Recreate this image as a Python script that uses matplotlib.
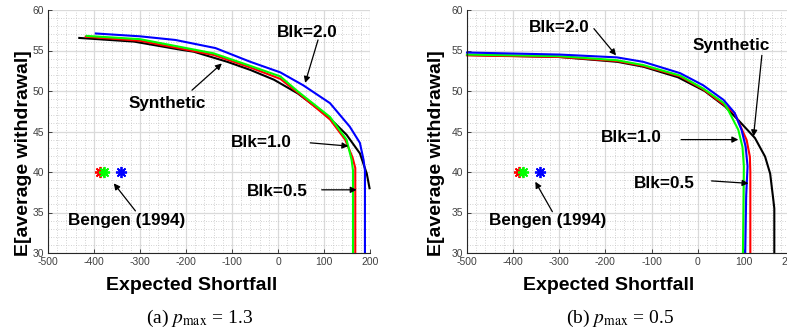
import numpy as np
import matplotlib.pyplot as plt
from matplotlib.ticker import MultipleLocator

plt.rcParams['font.family'] = ['Liberation Sans', 'DejaVu Sans']
plt.rcParams['mathtext.fontset'] = 'stix'
plt.rcParams['axes.unicode_minus'] = False

# (a) p_max = 1.3
a_syn_x = [-432, -313, -212, -183, -110, -60, -9, 43, 92, 124, 149, 178, 193, 199]
a_syn_y = [56.55, 56.1, 55.1, 54.85, 53.6, 52.6, 51.4, 49.7, 47.6, 46.0, 44.6, 42.3, 39.8, 38.0]
a_b05_x = [-418, -300, -140, -60, 5, 43, 113, 146, 162, 168, 168]
a_b05_y = [56.7, 56.2, 54.45, 52.9, 51.5, 49.8, 46.5, 44.0, 41.8, 40.5, 30]
a_b10_x = [-416, -300, -140, -60, 5, 43, 113, 149, 160, 163, 163]
a_b10_y = [56.8, 56.4, 54.65, 53.1, 51.8, 49.95, 46.8, 44.0, 41.5, 40.2, 30]
a_b20_x = [-396, -300, -223, -136, -60, 5, 55, 113, 156, 178, 186, 189, 189]
a_b20_y = [57.1, 56.75, 56.3, 55.3, 53.6, 52.3, 50.7, 48.5, 45.6, 43.6, 41.5, 40.2, 30]
a_bengen_x = [-387, -379, -342]

# (b) p_max = 0.5
b_syn_x = [-500, -300, -174, -118, -43, 15, 59, 88, 124, 146, 157, 164, 166, 166]
b_syn_y = [54.45, 54.2, 53.6, 53.0, 51.7, 50.0, 48.1, 46.4, 44.2, 41.9, 39.8, 36.5, 35.5, 30]
b_b05_x = [-500, -300, -175, -118, -38, 12, 57, 80, 106, 113, 114, 114]
b_b05_y = [54.4, 54.2, 53.7, 53.1, 51.8, 50.2, 48.3, 47.25, 43.95, 41.9, 40.0, 30]
b_b10_x = [-500, -300, -175, -118, -38, 12, 57, 66, 88, 97, 100, 98]
b_b10_y = [54.5, 54.3, 53.8, 53.2, 51.9, 50.3, 48.5, 47.65, 45.2, 43.1, 40.7, 30]
b_b20_x = [-500, -300, -175, -118, -38, 12, 56, 80, 95, 104, 108, 105, 103]
b_b20_y = [54.75, 54.5, 54.15, 53.6, 52.2, 50.7, 48.9, 47.3, 45.2, 43.1, 40.7, 37.0, 30]
b_bengen_x = [-388, -379, -341]

bengen_y = 40

fig = plt.figure(figsize=(7.87, 3.34), dpi=100)
ax1 = fig.add_axes([48/787, 81/334, 322/787, 243/334])
ax2 = fig.add_axes([467/787, 81/334, 323/787, 243/334])


def setup(ax):
    ax.set_xlim(-500, 200)
    ax.set_ylim(30, 60)
    ax.xaxis.set_major_locator(MultipleLocator(100))
    ax.xaxis.set_minor_locator(MultipleLocator(20))
    ax.yaxis.set_major_locator(MultipleLocator(5))
    ax.yaxis.set_minor_locator(MultipleLocator(1))
    ax.grid(which='major', color='#dadada', lw=0.9)
    ax.grid(which='minor', color='#c4c4c4', lw=0.6, ls=(0, (1, 2)))
    ax.set_axisbelow(True)
    for s in ['top', 'right']:
        ax.spines[s].set_visible(False)
    for s in ['left', 'bottom']:
        ax.spines[s].set_color('#262626')
        ax.spines[s].set_linewidth(0.8)
    ax.tick_params(which='major', direction='in', length=3, width=0.6,
                   colors='#262626', labelcolor='#404040', labelsize=7.5, pad=3)
    ax.tick_params(which='minor', length=0)
    ax.set_xlabel('Expected Shortfall', fontsize=14, fontweight='bold', va='center')
    ax.set_ylabel('E[average withdrawal]', fontsize=14, fontweight='bold', va='center')


def note(ax, text, pos, tail, head):
    ax.text(pos[0], pos[1], text, fontsize=12.3, fontweight='bold',
            ha='center', va='center')
    ax.annotate('', xy=head, xytext=tail,
                arrowprops=dict(arrowstyle='-|>', color='k', lw=0.9,
                                mutation_scale=9, shrinkA=0, shrinkB=0))


lw = 1.5
for ax, curves, bx in [
    (ax1, [(a_syn_x, a_syn_y, 'k'), (a_b05_x, a_b05_y, 'r'),
           (a_b10_x, a_b10_y, '#00ff00'), (a_b20_x, a_b20_y, 'b')], a_bengen_x),
    (ax2, [(b_syn_x, b_syn_y, 'k'), (b_b05_x, b_b05_y, 'r'),
           (b_b10_x, b_b10_y, '#00ff00'), (b_b20_x, b_b20_y, 'b')], b_bengen_x)]:
    setup(ax)
    for x, y, c in curves:
        ax.plot(x, y, color=c, lw=lw, clip_on=False)
    for x, c in zip(bx, ['r', '#00ff00', 'b']):
        ax.plot(x, bengen_y, ls='none', marker=(8, 2, 0), ms=8, mew=1.3, color=c)

ax1.xaxis.set_label_coords(0.446, -0.132)
ax1.yaxis.set_label_coords(-0.077, 0.41)
ax2.xaxis.set_label_coords(0.44, -0.132)
ax2.yaxis.set_label_coords(-0.093, 0.41)

note(ax1, 'Blk=2.0', (64, 57.2), (87, 56.3), (59, 51.0))
note(ax1, 'Synthetic', (-241, 48.5), (-187, 50.1), (-122, 53.4))
note(ax1, 'Blk=1.0', (-37, 43.6), (70, 43.6), (153, 43.2))
note(ax1, 'Blk=0.5', (-2, 37.6), (95, 37.8), (171, 37.8))
note(ax1, 'Bengen (1994)', (-328, 34.0), (-310, 35.2), (-357, 38.6))

note(ax2, 'Blk=2.0', (-299, 57.9), (-225, 57.7), (-177, 54.4))
note(ax2, 'Synthetic', (73, 55.6), (139, 54.4), (121, 44.4))
note(ax2, 'Blk=1.0', (-143, 44.2), (-36, 44.0), (88, 44.0))
note(ax2, 'Blk=0.5', (-73, 38.6), (30, 38.9), (110, 38.6))
note(ax2, 'Bengen (1994)', (-325, 34.0), (-315, 35.1), (-352, 38.8))

fig.text(200/787, 1 - 318/334, r'(a) $p_{\mathrm{max}}$ = 1.3', fontsize=14,
         family='Liberation Serif', ha='center', va='center')
fig.text(620/787, 1 - 318/334, r'(b) $p_{\mathrm{max}}$ = 0.5', fontsize=14,
         family='Liberation Serif', ha='center', va='center')

fig.savefig('out.png', dpi=100)
